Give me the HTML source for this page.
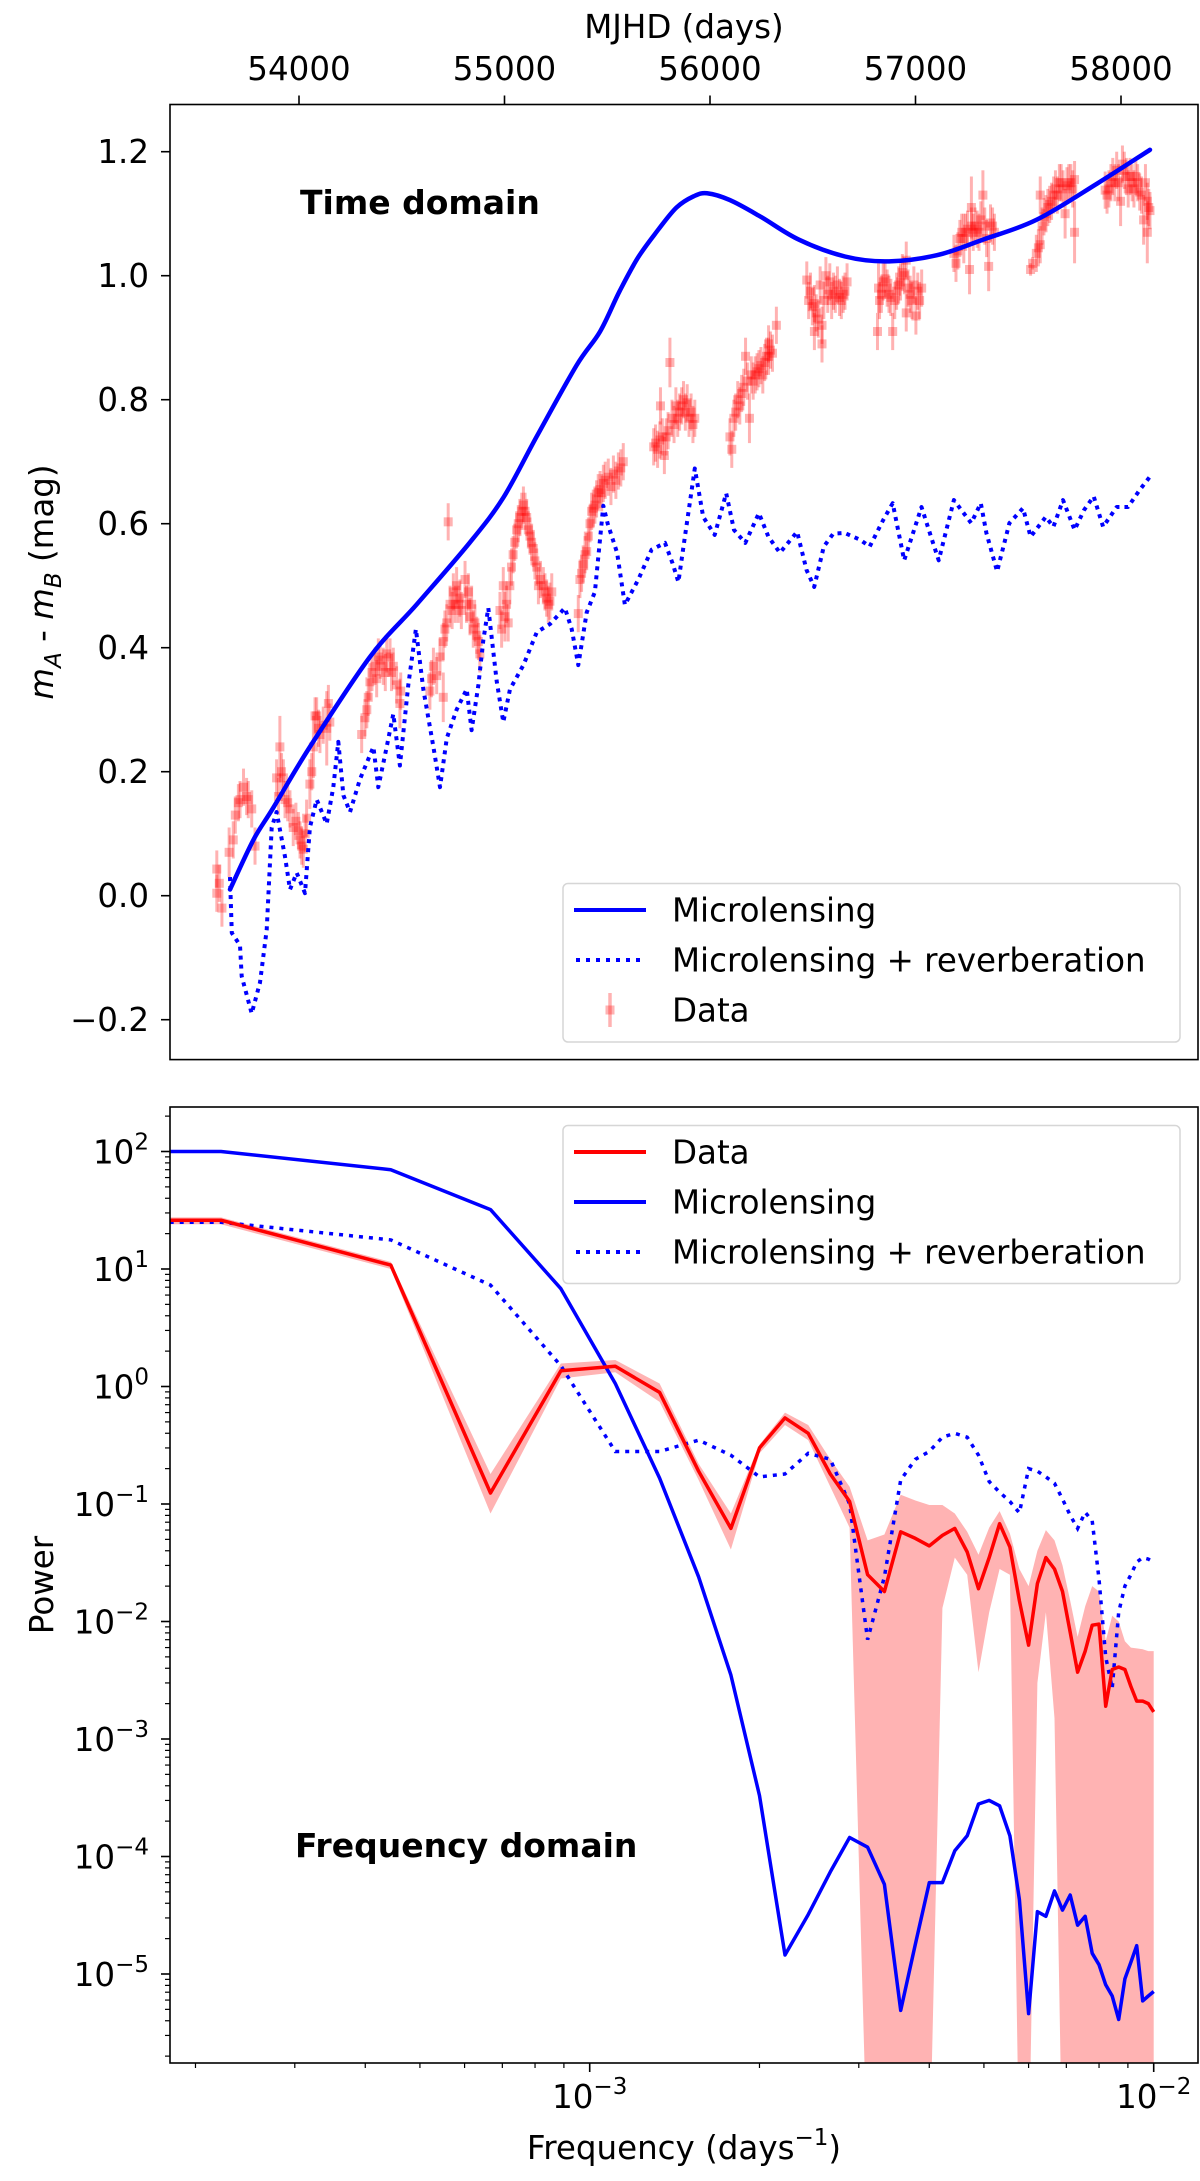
<!DOCTYPE html>
<html><head><meta charset="utf-8"><style>
html,body{margin:0;padding:0;background:#fff;width:1200px;height:2181px;overflow:hidden;}
svg{display:block;font-family:"DejaVu Sans","Liberation Sans",sans-serif;}
</style></head><body>
<svg id="fig" xmlns="http://www.w3.org/2000/svg" width="1200" height="2181" viewBox="0 0 1200 2181">
<defs>
<clipPath id="clipTop"><rect x="170" y="104.5" width="1028" height="955"/></clipPath>
<clipPath id="clipBot"><rect x="170" y="1107" width="1028" height="956"/></clipPath>
</defs>
</svg>
<script>
// ---------- TOP PANEL DATA ----------
const mlMjd=[53664,53778,53875,54053,54345,54573,54832,54994,55157,55350,55465,55560,55651,55750,55837,55920,55986,56097,56247,56433,56657,56861,57104,57327,57588,57886,58141];
const mlMag=[0.01,0.09,0.142,0.24,0.385,0.47,0.57,0.642,0.741,0.855,0.91,0.975,1.03,1.075,1.11,1.128,1.133,1.122,1.095,1.058,1.031,1.023,1.033,1.058,1.09,1.149,1.203];
const revMjd=[53664,53673,53713,53721,53770,53810,53843,53867,53891,53932,53956,53989,54029,54053,54086,54135,54167,54191,54216,54248,54297,54362,54386,54427,54459,54491,54532,54569,54605,54654,54686,54719,54767,54816,54840,54873,54897,54921,54962,54994,55027,55092,55157,55221,55294,55327,55359,55400,55440,55481,55502,55548,55586,55651,55716,55781,55818,55846,55878,55926,55967,56023,56079,56117,56172,56238,56284,56340,56424,56470,56507,56554,56600,56656,56731,56777,56843,56889,56945,57029,57085,57113,57187,57271,57318,57345,57397,57457,57523,57560,57634,57671,57718,57774,57820,57867,57913,57979,58034,58090,58141];
const revMag=[0.03,-0.06,-0.08,-0.13,-0.19,-0.14,-0.055,0.11,0.135,0.063,0.01,0.037,0.004,0.11,0.155,0.116,0.175,0.248,0.162,0.135,0.188,0.24,0.175,0.24,0.293,0.21,0.34,0.43,0.333,0.24,0.175,0.254,0.30,0.333,0.267,0.34,0.412,0.464,0.346,0.28,0.333,0.372,0.425,0.438,0.464,0.43,0.372,0.457,0.49,0.629,0.60,0.553,0.469,0.51,0.558,0.569,0.536,0.506,0.579,0.689,0.611,0.582,0.649,0.59,0.569,0.617,0.579,0.553,0.587,0.525,0.498,0.563,0.584,0.585,0.574,0.563,0.606,0.633,0.541,0.627,0.569,0.541,0.638,0.601,0.633,0.585,0.523,0.601,0.625,0.579,0.611,0.595,0.638,0.59,0.622,0.644,0.595,0.627,0.627,0.654,0.676];
const dataMjd=[53600,53600,53612,53625,53660,53680,53690,53705,53713,53730,53745,53753,53770,53786,
53891,53900,53907,53915,53924,53932,53945,53956,53972,53985,53997,54005,54013,54021,54030,54037,54053,54062,54070,54078,
54086,54095,54102,54118,54135,54143,54150,
54305,54321,54330,54337,54345,54355,54370,54378,54386,54395,54410,54420,54427,54443,54450,54459,54475,54491,54495,
54637,54645,54654,54670,54686,54702,54702,54710,54719,54726,54735,54745,54751,54760,54767,54775,54783,54790,54808,54815,54824,54832,54840,54848,54856,54865,54873,54880,
54978,54986,54994,55002,55010,55018,55026,55034,55042,55050,55059,55067,55075,55084,55092,55100,55108,55116,55124,55132,55140,55148,55157,55165,55175,55189,55197,55205,55213,55221,55230,
55359,55367,55375,55383,55392,55400,55408,55416,55424,55432,55440,55448,55456,55465,55473,55481,55490,55505,55518,55530,55542,55554,55566,55578,
55726,55735,55745,55756,55759,55768,55778,55787,55796,55805,55815,55825,55834,55843,55852,55862,55871,55880,55889,55898,55908,55917,55926,
56097,56106,56116,56125,56135,56145,56154,56164,56173,56182,56192,56201,56210,56220,56229,56238,56248,56257,56266,56275,56285,56285,56294,56304,56323,
56471,56480,56489,56498,56508,56508,56517,56527,56536,56545,56545,56554,56564,56573,56583,56592,56601,56610,56620,56630,56639,56648,56657,56667,
56815,56820,56825,56834,56843,56852,56862,56871,56880,56889,56899,56908,56918,56927,56936,56946,56955,56955,56964,56974,56983,56992,57002,57011,57020,57030,
57187,57197,57206,57216,57225,57235,57244,57253,57263,57272,57272,57281,57290,57300,57309,57318,57328,57337,57346,57356,57365,57375,57384,
57560,57570,57588,57598,57607,57607,57616,57625,57635,57644,57653,57662,57672,57681,57690,57700,57709,57718,57728,57737,57746,57756,57765,57774,57774,
57923,57932,57941,57951,57960,57970,57979,57988,57998,58007,58016,58026,58035,58044,58054,58063,58072,58081,58091,58100,58110,58119,58128,58128,58135,58141];
const dataMag=[0.043,0.004,0.02,-0.02,0.07,0.09,0.13,0.15,0.155,0.175,0.16,0.155,0.14,0.08,
0.19,0.16,0.24,0.20,0.19,0.155,0.15,0.14,0.11,0.12,0.105,0.09,0.08,0.075,0.10,0.125,0.18,0.20,0.24,0.29,
0.29,0.27,0.26,0.275,0.27,0.31,0.28,
0.26,0.287,0.30,0.32,0.345,0.36,0.37,0.35,0.385,0.38,0.37,0.36,0.39,0.385,0.36,0.37,0.34,0.31,0.33,
0.33,0.35,0.37,0.355,0.385,0.41,0.32,0.43,0.44,0.603,0.47,0.46,0.49,0.47,0.50,0.47,0.48,0.46,0.51,0.47,0.49,0.45,0.47,0.43,0.44,0.42,0.41,0.39,
0.46,0.43,0.50,0.45,0.47,0.44,0.50,0.53,0.55,0.57,0.59,0.60,0.61,0.62,0.63,0.62,0.61,0.59,0.58,0.57,0.56,0.54,0.53,0.50,0.51,0.50,0.49,0.48,0.47,0.475,0.49,
0.455,0.51,0.52,0.535,0.55,0.555,0.58,0.60,0.62,0.625,0.63,0.64,0.65,0.655,0.65,0.665,0.67,0.675,0.66,0.68,0.67,0.685,0.69,0.70,
0.724,0.73,0.72,0.735,0.79,0.74,0.71,0.74,0.75,0.86,0.77,0.76,0.79,0.77,0.78,0.79,0.80,0.78,0.795,0.77,0.78,0.76,0.77,
0.74,0.72,0.77,0.78,0.80,0.79,0.81,0.82,0.87,0.83,0.77,0.84,0.83,0.84,0.845,0.85,0.855,0.84,0.86,0.87,0.87,0.89,0.88,0.875,0.92,
0.993,0.96,0.975,0.95,0.955,0.91,0.94,0.93,0.985,0.92,0.89,0.96,1.0,0.97,0.99,0.96,0.975,0.97,0.985,0.965,0.96,0.97,0.975,0.99,
0.91,0.98,0.96,0.97,0.99,0.995,0.98,0.97,0.965,0.91,0.96,0.975,0.985,0.99,1.005,1.0,1.025,0.94,0.98,0.97,0.96,0.985,0.935,0.975,0.96,0.98,
1.036,1.02,1.04,1.06,1.07,1.06,1.07,1.075,1.01,1.08,1.11,1.07,1.08,1.075,1.07,1.09,1.13,1.08,1.06,1.015,1.085,1.08,1.07,
1.01,1.02,1.036,1.045,1.05,1.13,1.08,1.095,1.10,1.11,1.115,1.12,1.13,1.14,1.13,1.15,1.15,1.14,1.10,1.145,1.15,1.15,1.14,1.155,1.07,
1.138,1.13,1.14,1.15,1.16,1.15,1.17,1.15,1.12,1.18,1.17,1.16,1.14,1.16,1.15,1.14,1.16,1.15,1.135,1.13,1.09,1.15,1.12,1.07,1.11,1.105];
const dataErr=[0.03,0.03,0.03,0.03,0.04,0.03,0.03,0.03,0.03,0.03,0.03,0.03,0.03,0.03,
0.03,0.03,0.05,0.03,0.03,0.03,0.03,0.03,0.03,0.03,0.03,0.03,0.03,0.03,0.03,0.03,0.04,0.03,0.05,0.03,
0.03,0.03,0.03,0.03,0.06,0.03,0.03,
0.03,0.03,0.03,0.03,0.03,0.03,0.03,0.03,0.03,0.03,0.03,0.03,0.03,0.03,0.03,0.03,0.03,0.04,0.03,
0.03,0.03,0.03,0.03,0.03,0.03,0.04,0.03,0.03,0.03,0.03,0.03,0.03,0.03,0.03,0.03,0.03,0.03,0.03,0.03,0.03,0.03,0.03,0.03,0.03,0.03,0.03,0.03,
0.03,0.03,0.03,0.04,0.03,0.03,0.03,0.03,0.03,0.03,0.03,0.03,0.03,0.03,0.03,0.03,0.03,0.03,0.03,0.03,0.03,0.03,0.03,0.03,0.03,0.03,0.03,0.03,0.03,0.03,0.03,
0.03,0.03,0.03,0.03,0.03,0.03,0.03,0.03,0.03,0.03,0.03,0.03,0.03,0.03,0.03,0.03,0.03,0.03,0.03,0.03,0.03,0.03,0.03,0.03,
0.03,0.03,0.03,0.03,0.03,0.03,0.03,0.03,0.03,0.04,0.03,0.03,0.03,0.03,0.03,0.03,0.03,0.03,0.03,0.03,0.03,0.03,0.03,
0.03,0.03,0.03,0.03,0.03,0.03,0.03,0.03,0.03,0.03,0.04,0.03,0.03,0.03,0.03,0.03,0.03,0.03,0.03,0.03,0.03,0.03,0.03,0.03,0.03,
0.03,0.03,0.03,0.03,0.03,0.03,0.03,0.03,0.03,0.03,0.03,0.03,0.03,0.03,0.03,0.03,0.03,0.03,0.03,0.03,0.03,0.03,0.03,0.03,
0.03,0.04,0.03,0.03,0.03,0.03,0.03,0.03,0.03,0.03,0.03,0.03,0.03,0.03,0.03,0.03,0.03,0.03,0.03,0.03,0.03,0.03,0.03,0.03,0.03,0.03,
0.03,0.03,0.03,0.03,0.03,0.04,0.03,0.03,0.04,0.03,0.05,0.03,0.03,0.03,0.03,0.03,0.04,0.03,0.03,0.04,0.03,0.03,0.03,
0.01,0.01,0.03,0.03,0.03,0.03,0.03,0.03,0.03,0.03,0.03,0.03,0.03,0.03,0.03,0.03,0.03,0.03,0.04,0.03,0.03,0.03,0.03,0.03,0.05,
0.03,0.03,0.03,0.03,0.03,0.03,0.03,0.03,0.04,0.03,0.03,0.03,0.03,0.03,0.03,0.03,0.03,0.03,0.03,0.03,0.04,0.03,0.03,0.05,0.03,0.03];
const topXTicks=[54000,55000,56000,57000,58000];
const topYTicks=[-0.2,0.0,0.2,0.4,0.6,0.8,1.0,1.2];

// ---------- BOTTOM PANEL DATA ----------
const freqs=[0.00018,0.000222,0.000444,0.000667,0.000889,0.00111,0.00133,0.00156,0.00178,0.002,0.00222,0.00244,0.00267,0.00289,0.00311,0.00333,0.00356,0.00378,0.004,0.00422,0.00444,0.00467,0.00489,0.00511,0.00533,0.00556,0.00578,0.006,0.00622,0.00644,0.00667,0.00689,0.00711,0.00733,0.00756,0.00778,0.008,0.00822,0.00844,0.00867,0.00889,0.00911,0.00933,0.00956,0.00978,0.01];
const powData=[26,26,10.8,0.124,1.36,1.49,0.89,0.19,0.062,0.30,0.54,0.40,0.18,0.105,0.025,0.018,0.058,0.051,0.044,0.054,0.062,0.039,0.019,0.035,0.068,0.043,0.015,0.0063,0.021,0.035,0.028,0.018,0.0081,0.0037,0.0056,0.0093,0.0095,0.0019,0.0039,0.0041,0.0039,0.0028,0.0021,0.0021,0.0020,0.0017];
const powDataHi=[27.5,27.5,11.5,0.18,1.57,1.68,1.06,0.22,0.083,0.32,0.60,0.47,0.24,0.14,0.049,0.055,0.12,0.107,0.098,0.098,0.083,0.058,0.037,0.063,0.087,0.056,0.028,0.02,0.04,0.06,0.049,0.030,0.015,0.0074,0.0135,0.020,0.018,0.0068,0.0112,0.010,0.0068,0.006,0.0059,0.0058,0.0056,0.0056];
const powDataLo=[24,24,10,0.083,1.17,1.32,0.74,0.16,0.041,0.27,0.47,0.35,0.14,0.063,1e-9,1e-9,1e-9,1e-9,1e-9,0.013,0.035,0.025,0.0037,0.012,0.028,0.025,1e-9,1e-9,0.003,0.012,0.0015,1e-9,1e-9,1e-9,1e-9,1e-9,1e-9,1e-9,1e-9,1e-9,1e-9,1e-9,1e-9,1e-9,1e-9,1e-9];
const powMicro=[100,100,70,32,6.8,1.06,0.166,0.024,3.5e-3,3.3e-4,1.45e-5,3.2e-5,7.4e-5,1.45e-4,1.2e-4,5.8e-5,4.9e-6,1.8e-5,6.0e-5,6.0e-5,1.12e-4,1.5e-4,2.8e-4,3.0e-4,2.7e-4,1.5e-4,4.3e-5,4.6e-6,3.4e-5,3.1e-5,5.1e-5,3.5e-5,4.7e-5,2.6e-5,3.1e-5,1.5e-5,1.2e-5,8.1e-6,6.5e-6,4.1e-6,9.1e-6,1.26e-5,1.74e-5,5.9e-6,6.5e-6,7.1e-6];
const powRev=[25,25,17.7,7.3,1.5,0.28,0.28,0.35,0.26,0.17,0.18,0.27,0.24,0.10,0.007,0.024,0.16,0.24,0.28,0.37,0.40,0.37,0.26,0.155,0.126,0.105,0.084,0.20,0.19,0.17,0.15,0.11,0.08,0.062,0.085,0.072,0.023,0.005,0.0027,0.012,0.020,0.025,0.032,0.035,0.034,0.032];
const botXMajor=[-3,-2];
const botYMajor=[2,1,0,-1,-2,-3,-4,-5];

// ---------- AXIS FUNCTIONS ----------
const T={l:170,r:1198,t:104.5,b:1059.6};
const B={l:170,r:1198,t:1107,b:2063};
function tx(m){return 299+(m-54000)*0.2055;}
function ty(v){return 895.7-v*620;}
function bx(f){return 589.7+(Math.log10(f)+3)*564;}
function by(p){return 1151.5+(2-Math.log10(p))*117.5;}
function byc(p){return Math.min(by(p),2175);}

const NS='http://www.w3.org/2000/svg';
const svg=document.getElementById('fig');
function mk(tag,attrs,parent){const e=document.createElementNS(NS,tag);for(const k in attrs)e.setAttribute(k,attrs[k]);(parent||svg).appendChild(e);return e;}
function pts(xs,ys,fx,fy){return xs.map((x,i)=>fx(x).toFixed(1)+','+fy(ys[i]).toFixed(1)).join(' ');}
function smoothPath(xs,ys,fx,fy){
  const P=xs.map((x,i)=>[fx(x),fy(ys[i])]);
  let d='M'+P[0][0].toFixed(1)+','+P[0][1].toFixed(1);
  for(let i=0;i<P.length-1;i++){
    const p0=P[Math.max(0,i-1)],p1=P[i],p2=P[i+1],p3=P[Math.min(P.length-1,i+2)];
    const c1=[p1[0]+(p2[0]-p0[0])/6,p1[1]+(p2[1]-p0[1])/6];
    const c2=[p2[0]-(p3[0]-p1[0])/6,p2[1]-(p3[1]-p1[1])/6];
    d+=' C'+c1[0].toFixed(1)+','+c1[1].toFixed(1)+' '+c2[0].toFixed(1)+','+c2[1].toFixed(1)+' '+p2[0].toFixed(1)+','+p2[1].toFixed(1);
  }
  return d;
}

// ===== TOP PANEL =====
const gTop=mk('g',{});


const gTopData=mk('g',{'clip-path':'url(#clipTop)'},gTop);



const gErr=mk('g',{},gTopData);


for(let i=0;i<dataMjd.length;i++){
  const x=tx(dataMjd[i]),y=ty(dataMag[i]),e=dataErr[i]*620;
  const ln=mk('line',{x1:x,x2:x,y1:y-e,y2:y+e,stroke:'rgba(255,0,0,0.3)','stroke-width':3},gErr);
  
  
  const sq=mk('rect',{x:x-4.5,y:y-4.5,width:9,height:9,fill:'rgba(255,0,0,0.3)'},gErr);
  
  
}
const revLine=mk('polyline',{points:pts(revMjd,revMag,tx,ty),fill:'none',stroke:'#0000ff','stroke-width':4,'stroke-dasharray':'4,5','stroke-linejoin':'round'},gTopData);


const mlLine=mk('path',{d:smoothPath(mlMjd,mlMag,tx,ty),fill:'none',stroke:'#0000ff','stroke-width':4.5,'stroke-linejoin':'round','stroke-linecap':'round'},gTopData);



const topFrame=mk('rect',{x:T.l,y:T.t,width:T.r-T.l,height:T.b-T.t,fill:'none',stroke:'#000','stroke-width':1.6},gTop);



for(const v of topXTicks){
  const x=tx(v);
  const t=mk('line',{x1:x,x2:x,y1:T.t,y2:T.t-9,stroke:'#000','stroke-width':1.6},gTop);
  
  
  const lb=mk('text',{x:x,y:80,'font-size':32.5,'text-anchor':'middle',fill:'#000'},gTop);
  lb.textContent=String(v);
  
  
}
for(const v of topYTicks){
  const y=ty(v);
  const t=mk('line',{x1:T.l,x2:T.l-9,y1:y,y2:y,stroke:'#000','stroke-width':1.6},gTop);
  
  
  const lb=mk('text',{x:149,y:y+11.5,'font-size':32.5,'text-anchor':'end',fill:'#000'},gTop);
  lb.textContent=(v<0?'\u2212':'')+Math.abs(v).toFixed(1);
  
  
}
const mjhd=mk('text',{x:684,y:38,'font-size':32.5,'text-anchor':'middle',fill:'#000'},gTop);
mjhd.textContent='MJHD (days)';



const yl=mk('text',{transform:'translate(53,582) rotate(-90)','font-size':32.5,'text-anchor':'middle',fill:'#000'},gTop);
yl.innerHTML='<tspan font-style="italic">m</tspan><tspan font-size="23" font-style="italic" dy="8">A</tspan><tspan dy="-8"> - </tspan><tspan font-style="italic">m</tspan><tspan font-size="23" font-style="italic" dy="8">B</tspan><tspan dy="-8"> (mag)</tspan>';



const tdl=mk('text',{x:300,y:214,'font-size':33,'font-weight':'bold',fill:'#000'},gTop);
tdl.textContent='Time domain';



const lgT=mk('g',{},gTop);


const lgTbox=mk('rect',{x:563,y:883.5,width:617,height:158.5,rx:5,fill:'rgba(255,255,255,0.8)',stroke:'#d6d6d6','stroke-width':1.5},lgT);


const le1=mk('line',{x1:574,x2:646,y1:910,y2:910,stroke:'#0000ff','stroke-width':4},lgT);


const le2=mk('line',{x1:576,x2:646,y1:960,y2:960,stroke:'#0000ff','stroke-width':4,'stroke-dasharray':'4,6'},lgT);


const le3=mk('line',{x1:610,x2:610,y1:993,y2:1027,stroke:'rgba(255,0,0,0.3)','stroke-width':3.5},lgT);


const le3b=mk('rect',{x:605.5,y:1005.5,width:9,height:9,fill:'rgba(255,0,0,0.3)'},lgT);


[['Microlensing',921.5],['Microlensing + reverberation',971.5],['Data',1021.5]].forEach(function(a){
  const t=mk('text',{x:672,y:a[1],'font-size':32.5,fill:'#000'},lgT);
  t.textContent=a[0];
  
  
});

// ===== BOTTOM PANEL =====
const gBot=mk('g',{});


const gBotData=mk('g',{'clip-path':'url(#clipBot)'},gBot);



let bandPts=freqs.map((f,i)=>bx(f).toFixed(1)+','+byc(powDataHi[i]).toFixed(1));
for(let i=freqs.length-1;i>=0;i--)bandPts.push(bx(freqs[i]).toFixed(1)+','+byc(powDataLo[i]).toFixed(1));
const band=mk('polygon',{points:bandPts.join(' '),fill:'#ffb3b3',stroke:'none'},gBotData);


const pRev=mk('polyline',{points:pts(freqs,powRev,bx,by),fill:'none',stroke:'#0000ff','stroke-width':3.5,'stroke-dasharray':'4,6'},gBotData);


const pMic=mk('polyline',{points:pts(freqs,powMicro,bx,by),fill:'none',stroke:'#0000ff','stroke-width':3.5,'stroke-linejoin':'round'},gBotData);


const pDat=mk('polyline',{points:pts(freqs,powData,bx,by),fill:'none',stroke:'#ff0000','stroke-width':3.5,'stroke-linejoin':'round'},gBotData);



const botFrame=mk('rect',{x:B.l,y:B.t,width:B.r-B.l,height:B.b-B.t,fill:'none',stroke:'#000','stroke-width':1.6},gBot);



for(let e=-4;e<=-2;e++){
  for(let m=1;m<10;m++){
    const f=m*Math.pow(10,e);const x=bx(f);
    if(x<B.l-0.5||x>B.r+0.5)continue;
    const len=(m===1)?9:5;
    const t=mk('line',{x1:x,x2:x,y1:B.b,y2:B.b+len,stroke:'#000','stroke-width':(m===1?1.6:1.2)},gBot);
    
    
  }
}
for(const e of botXMajor){
  const x=bx(Math.pow(10,e));
  const lb=mk('text',{x:x,y:2108,'font-size':32.5,'text-anchor':'middle',fill:'#000'},gBot);
  lb.innerHTML='10<tspan font-size="23" dy="-14">\u2212'+Math.abs(e)+'</tspan>';
  
  
}
for(let e=-6;e<=2;e++){
  for(let m=1;m<10;m++){
    const p=m*Math.pow(10,e);const y=by(p);
    if(y<B.t-0.5||y>B.b+0.5)continue;
    const len=(m===1)?9:5;
    const t=mk('line',{x1:B.l,x2:B.l-len,y1:y,y2:y,stroke:'#000','stroke-width':(m===1?1.6:1.2)},gBot);
    
    
  }
}
for(const e of botYMajor){
  const y=by(Math.pow(10,e));
  const lb=mk('text',{x:149,y:y+12,'font-size':32.5,'text-anchor':'end',fill:'#000'},gBot);
  lb.innerHTML='10<tspan font-size="23" dy="-14">'+(e<0?'\u2212':'')+Math.abs(e)+'</tspan>';
  
  
}
const xt=mk('text',{x:684,y:2159,'font-size':32.5,'text-anchor':'middle',fill:'#000'},gBot);
xt.innerHTML='Frequency (days<tspan font-size="23" dy="-14">\u22121</tspan><tspan dy="14">)</tspan>';


const ytb=mk('text',{transform:'translate(53,1585) rotate(-90)','font-size':32.5,'text-anchor':'middle',fill:'#000'},gBot);
ytb.textContent='Power';


const fdl=mk('text',{x:295,y:1857,'font-size':33,'font-weight':'bold',fill:'#000'},gBot);
fdl.textContent='Frequency domain';



const lgB=mk('g',{},gBot);


const lgBbox=mk('rect',{x:563,y:1125.5,width:617,height:158,rx:5,fill:'rgba(255,255,255,0.8)',stroke:'#d6d6d6','stroke-width':1.5},lgB);


const lb1=mk('line',{x1:574,x2:646,y1:1152,y2:1152,stroke:'#ff0000','stroke-width':4},lgB);


const lb2=mk('line',{x1:574,x2:646,y1:1202,y2:1202,stroke:'#0000ff','stroke-width':4},lgB);


const lb3=mk('line',{x1:576,x2:646,y1:1252,y2:1252,stroke:'#0000ff','stroke-width':4,'stroke-dasharray':'4,6'},lgB);


[['Data',1163.5],['Microlensing',1213.5],['Microlensing + reverberation',1263.5]].forEach(function(a){
  const t=mk('text',{x:672,y:a[1],'font-size':32.5,fill:'#000'},lgB);
  t.textContent=a[0];
  
  
});
</script>
</body></html>
